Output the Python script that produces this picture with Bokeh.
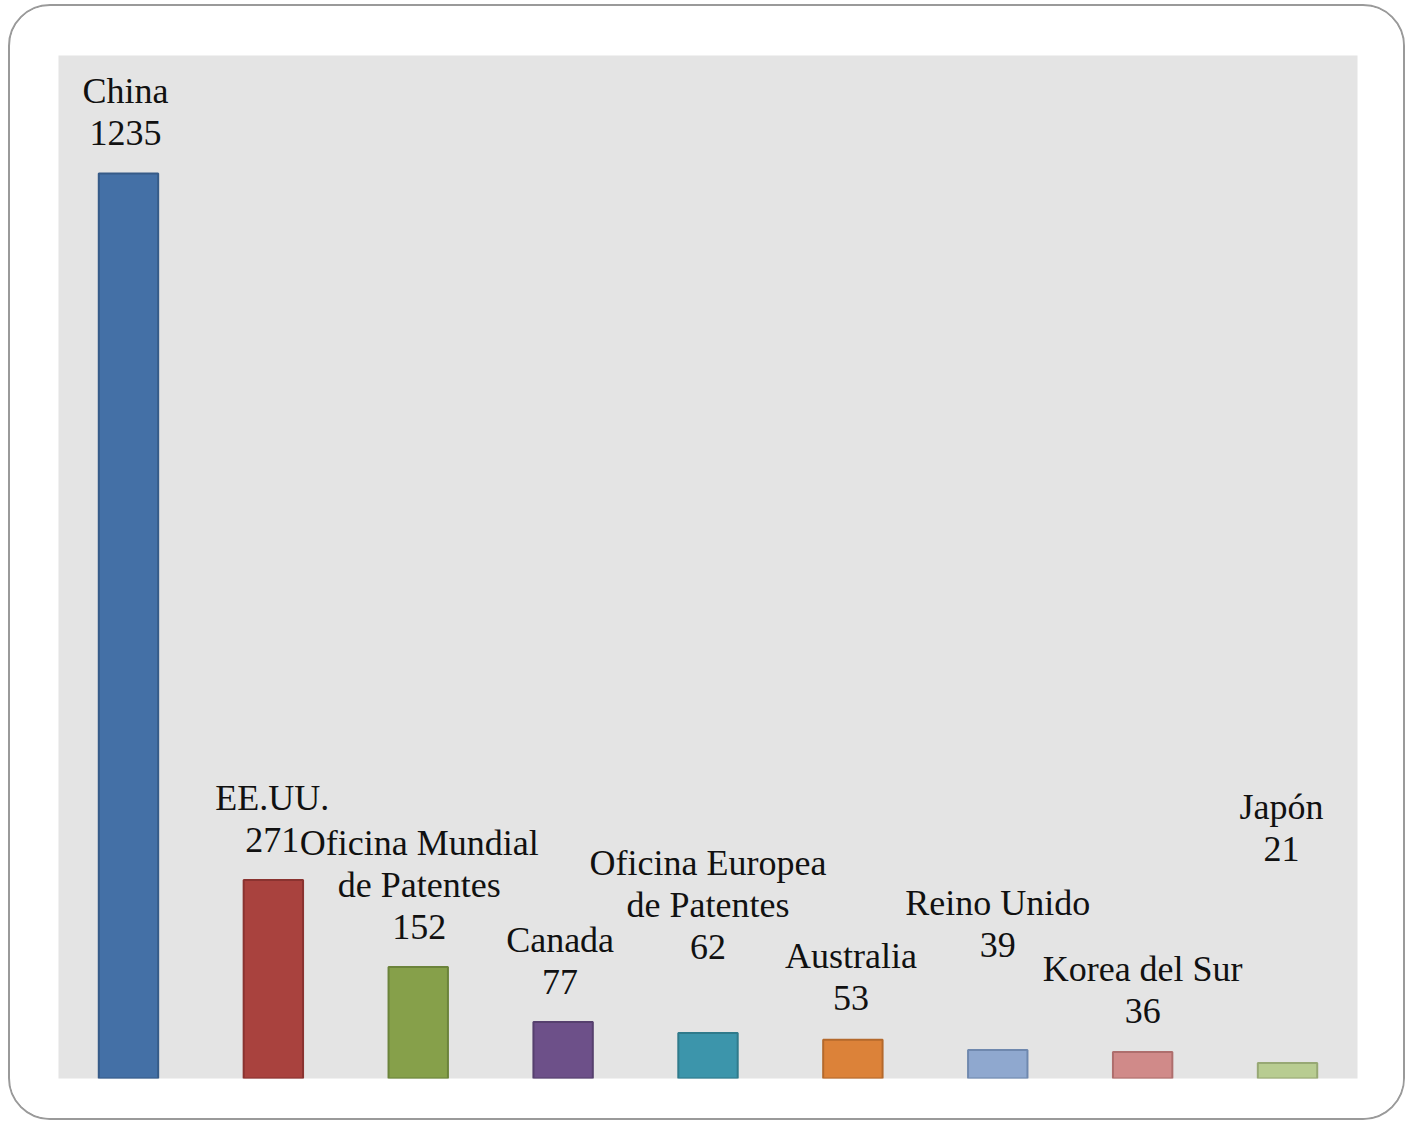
from bokeh.plotting import figure
from bokeh.models import ColumnDataSource, Range1d
from bokeh.core.properties import value
from bokeh.embed import file_html
from bokeh.resources import INLINE

# ---- data ----
categories = ["China", "EE.UU.", "Oficina Mundial\nde Patentes", "Canada",
              "Oficina Europea\nde Patentes", "Australia", "Reino Unido",
              "Korea del Sur", "Japón"]
counts = [1235, 271, 152, 77, 62, 53, 39, 36, 21]

# ---- styles ----
fill_colors = ["#4470a6", "#a9423e", "#86a04a", "#6d5089", "#3c95ab",
               "#dc8239", "#8fa8cf", "#d08a89", "#b8cc91"]
line_colors = ["#365b88", "#8a3330", "#6b833a", "#56406e", "#2f7a8b",
               "#b4692c", "#6f88ae", "#ae6e6d", "#97a874"]
label_gap_px = [40, 40, 40, 40, 86, 42, 105, 41, 214]
label_dx_px = [-3, -1, 1, -3, 0, -2, 0, 0, -6]
LINE_H = 42

xs = list(range(len(categories)))
bar_src = ColumnDataSource(dict(x=xs, top=counts, fill=fill_colors, line=line_colors))

lx, ly, lt, lxo, lyo = [], [], [], [], []
for i, (name, v) in enumerate(zip(categories, counts)):
    lines = name.split("\n") + [str(v)]
    n = len(lines)
    for j, t in enumerate(lines):
        lx.append(i)
        ly.append(v)
        lt.append(t)
        lxo.append(label_dx_px[i])
        lyo.append(-(label_gap_px[i] + (n - 1 - j) * LINE_H))
lab_src = ColumnDataSource(dict(x=lx, y=ly, text=lt, xo=lxo, yo=lyo))

p = figure(width=1397, height=1116, output_backend="svg", toolbar_location=None,
           x_range=Range1d(-0.483, 8.483), y_range=Range1d(0, 1396),
           min_border_left=48, min_border_right=50, min_border_top=49,
           min_border_bottom=44)
p.background_fill_color = "#e4e4e4"
p.border_fill_color = "white"
p.outline_line_color = None
p.xaxis.visible = False
p.yaxis.visible = False
p.xgrid.visible = False
p.ygrid.visible = False
p.styles = {"border": "2px solid #9a9a9a", "border-radius": "42px",
            "margin-left": "8px", "margin-top": "4px", "overflow": "hidden"}

p.vbar(x="x", top="top", bottom=0, width=0.41, source=bar_src,
       fill_color="fill", line_color="line", line_width=2)

p.text(x="x", y="y", text="text", x_offset="xo", y_offset="yo", source=lab_src,
       text_align="center", text_baseline="middle",
       text_font=value("Liberation Serif"), text_font_size="36px",
       text_color="#111111")

open("out.html", "w").write(file_html(p, INLINE))
